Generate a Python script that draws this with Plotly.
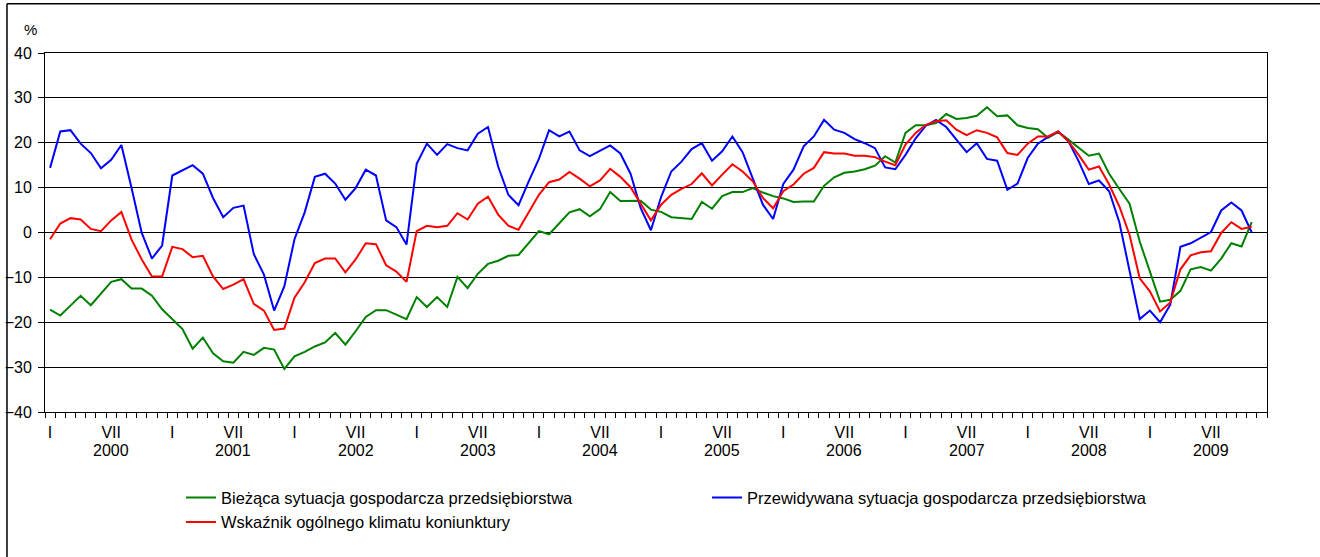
import plotly.graph_objects as go

# Monthly data Jan 2000 .. Nov 2009 (index 0 = I 2000)
biezaca = [
    -17.2, -18.5, -16.3, -14.1, -16.2, -13.7, -11.0, -10.4, -12.5, -12.5, -14.1, -17.1,
    -19.3, -21.5, -25.9, -23.4, -26.9, -28.7, -29.0, -26.6, -27.3, -25.7, -26.1, -30.4,
    -27.6, -26.6, -25.4, -24.5, -22.4, -25.0, -22.0, -18.8, -17.3, -17.3, -18.3, -19.3,
    -14.4, -16.6, -14.4, -16.6, -9.9, -12.4, -9.2, -7.0, -6.3, -5.2, -5.0, -2.4,
    0.3, -0.4, 2.1, 4.5, 5.2, 3.6, 5.2, 9.0, 7.0, 7.1, 7.1, 5.1,
    4.6, 3.4, 3.2, 3.0, 6.8, 5.3, 8.1, 9.0, 9.0, 9.9, 8.9, 8.1,
    7.6, 6.8, 6.9, 6.9, 10.4, 12.3, 13.3, 13.6, 14.1, 14.9, 17.0, 15.6,
    22.2, 23.9, 23.9, 24.4, 26.4, 25.3, 25.5, 26.0, 27.9, 25.9, 26.1, 23.9,
    23.3, 23.0, 21.1, 22.4, 20.7, 18.8, 17.1, 17.6, 13.1, 9.7, 6.4, -2.0,
    -8.7, -15.4, -15.0, -13.0, -8.2, -7.7, -8.5, -5.8, -2.4, -3.1, 2.3,
]
przewidywana = [
    14.4, 22.5, 22.8, 19.8, 17.7, 14.3, 16.2, 19.5, 9.9, -0.1, -5.8, -2.9,
    12.7, 13.9, 15.0, 13.1, 7.7, 3.4, 5.5, 6.0, -4.8, -9.4, -17.4, -12.0,
    -1.5, 4.5, 12.4, 13.1, 10.9, 7.3, 9.9, 14.0, 12.7, 2.7, 1.2, -2.7,
    15.3, 19.8, 17.3, 19.7, 18.8, 18.3, 22.0, 23.5, 14.7, 8.4, 6.1, 11.4,
    16.4, 22.8, 21.4, 22.5, 18.3, 17.0, 18.2, 19.4, 17.6, 13.1, 5.4, 0.5,
    7.9, 13.6, 15.8, 18.6, 19.9, 16.0, 18.1, 21.4, 17.9, 12.1, 6.2, 3.0,
    10.8, 14.0, 19.2, 21.4, 25.1, 22.9, 22.2, 20.8, 19.9, 18.8, 14.5, 14.1,
    17.3, 21.0, 23.8, 25.1, 23.5, 20.7, 17.9, 19.9, 16.4, 16.0, 9.5, 10.9,
    16.6, 19.8, 21.3, 22.5, 20.3, 15.9, 10.8, 11.6, 9.2, 2.3, -8.3, -19.3,
    -17.4, -20.0, -16.1, -3.2, -2.4, -1.2, 0.1, 4.9, 6.7, 4.9, 0.0,
]
wskaznik = [
    -1.5, 2.0, 3.2, 2.9, 0.8, 0.3, 2.7, 4.6, -1.6, -6.0, -9.8, -9.8,
    -3.2, -3.7, -5.5, -5.2, -9.8, -12.6, -11.6, -10.4, -15.9, -17.4, -21.7, -21.4,
    -14.5, -11.1, -6.8, -5.8, -5.8, -8.9, -6.0, -2.4, -2.6, -7.3, -8.7, -11.0,
    0.3, 1.5, 1.2, 1.5, 4.3, 2.9, 6.4, 8.0, 4.0, 1.5, 0.6, 4.5,
    8.4, 11.2, 11.8, 13.5, 12.0, 10.3, 11.6, 14.2, 12.4, 10.1, 6.4, 2.7,
    6.2, 8.4, 9.7, 10.8, 13.2, 10.5, 12.9, 15.2, 13.6, 11.4, 7.7, 5.4,
    9.2, 10.7, 13.1, 14.4, 17.9, 17.6, 17.6, 17.1, 17.1, 16.8, 15.8, 15.0,
    19.6, 22.2, 24.0, 24.8, 25.0, 22.9, 21.7, 22.8, 22.2, 21.2, 17.7, 17.3,
    19.8, 21.4, 21.4, 22.5, 20.3, 17.3, 14.0, 14.7, 10.7, 5.8, -0.5, -10.2,
    -13.1, -17.6, -15.6, -8.2, -5.1, -4.4, -4.2, -0.1, 2.3, 0.8, 1.3,
]
years = [2000, 2001, 2002, 2003, 2004, 2005, 2006, 2007, 2008, 2009]
month_labels = ["I", "VII"]
series_names = [
    "Bieżąca sytuacja gospodarcza przedsiębiorstwa",
    "Przewidywana sytuacja gospodarcza przedsiębiorstwa",
    "Wskaźnik ogólnego klimatu koniunktury",
]
series_colors = ["#008000", "#0000FF", "#FF0000"]

FONT = "Liberation Sans, Arial, sans-serif"
n_months = len(years) * 12

fig = go.Figure()
for name, vals, col in zip(series_names, [biezaca, przewidywana, wskaznik], series_colors):
    fig.add_trace(go.Scatter(
        x=list(range(len(vals))), y=vals, mode="lines", name=name,
        line=dict(color=col, width=2), hoverinfo="skip",
    ))

tickvals = []
ticktext = []
for k in range(len(years)):
    tickvals += [12 * k, 12 * k + 6]
    ticktext += month_labels

annotations = [
    dict(x=12 * k + 6, y=-0.108, xref="x", yref="paper", text=str(yr),
         showarrow=False, font=dict(family=FONT, size=16, color="black"),
         xanchor="center", yanchor="middle")
    for k, yr in enumerate(years)
]
annotations.append(dict(x=-0.012, y=1.065, xref="paper", yref="paper", text="%",
                        showarrow=False, font=dict(family=FONT, size=15, color="black"),
                        xanchor="center", yanchor="middle"))

frame_line = dict(color="black", width=1.5)
fig.update_layout(
    width=1320, height=557,
    margin=dict(l=45, r=53, t=53, b=145, pad=0, autoexpand=False),
    paper_bgcolor="white", plot_bgcolor="white",
    font=dict(family=FONT, size=16, color="black"),
    showlegend=True,
    legend=dict(
        orientation="h", x=0.1113, xanchor="left", y=-0.19, yanchor="top",
        entrywidth=481, entrywidthmode="pixels",
        font=dict(family=FONT, size=16.5, color="black"),
        bgcolor="rgba(0,0,0,0)", traceorder="normal",
    ),
    xaxis=dict(
        range=[-0.5, n_months - 0.5], tickmode="array", tickvals=tickvals, ticktext=ticktext,
        showgrid=False, zeroline=False, showline=True, linecolor="black", linewidth=1,
        mirror=True, ticks="outside", ticklen=6, tickcolor="rgba(0,0,0,0)",
        tickfont=dict(family=FONT, size=16, color="black"), automargin=False,
        minor=dict(tickmode="linear", tick0=-0.5, dtick=1, ticks="outside",
                   ticklen=5, tickcolor="black", tickwidth=1, showgrid=False),
    ),
    yaxis=dict(
        range=[-40, 40], tickmode="linear", tick0=-40, dtick=10,
        showgrid=True, gridcolor="black", gridwidth=1,
        zeroline=True, zerolinecolor="black", zerolinewidth=1,
        showline=True, linecolor="black", linewidth=1, mirror=True,
        ticks="outside", ticklen=6, tickcolor="black", automargin=False,
        tickfont=dict(family=FONT, size=16, color="black"),
        ticklabelstandoff=3,
    ),
    annotations=annotations,
    shapes=[
        dict(type="line", xref="paper", yref="paper", x0=-0.0311, x1=1.1,
             y0=1.137, y1=1.137, line=frame_line),
        dict(type="line", xref="paper", yref="paper", x0=-0.0311, x1=-0.0311,
             y0=-0.5, y1=1.137, line=frame_line),
    ],
)

fig.write_html(
    "out.html", config={"displayModeBar": False},
    post_script="document.body.style.margin='0px';"
                "document.body.style.overflow='hidden';"
                "document.documentElement.style.overflow='hidden';",
)
